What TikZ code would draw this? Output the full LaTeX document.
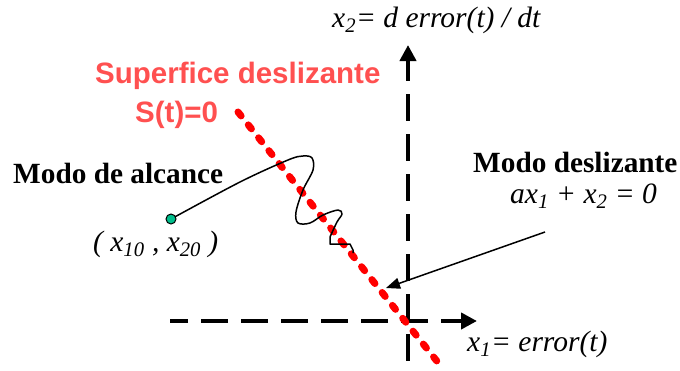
\documentclass[tikz,border=0pt]{standalone}
\usepackage{fontspec}
\setmainfont{Liberation Serif}
\newfontfamily\arialfont{Liberation Sans}
\usetikzlibrary{arrows.meta}
\definecolor{surfred}{RGB}{255,80,80}
\definecolor{dotgreen}{RGB}{0,190,140}
\newcommand{\sbx}[1]{\textsubscript{#1}}
\begin{document}
\begin{tikzpicture}[x=1pt,y=-1pt,
  axisline/.style={line width=4pt, dash pattern=on 27pt off 13pt, dash phase=6pt,
    {Triangle[length=16pt,width=16pt]}-},
  surfline/.style={red, line width=7pt, line cap=round, dash pattern=on 5pt off 11.5pt},
  traj/.style={line width=1.5pt, line join=round},
  pointer/.style={line width=1.5pt, -{Triangle[length=14pt,width=11pt]}},
  boldlabel/.style={anchor=base west, inner sep=0pt, font=\fontsize{29.3}{34}\selectfont\bfseries},
  redlabel/.style={anchor=base west, inner sep=0pt, text=surfred, font=\fontsize{29.5}{34}\selectfont\arialfont\bfseries},
  itlabel/.style={anchor=base west, inner sep=0pt, font=\fontsize{29.5}{34}\selectfont\itshape},
  startdot/.style={circle, draw, line width=1pt, fill=dotgreen, inner sep=0pt, minimum size=10pt}]
\useasboundingbox (0,0) rectangle (680,370);

% axes
\coordinate (ytip) at (408,45);
\coordinate (ybot) at (408,367);
\coordinate (xtip) at (477,321);
\coordinate (xstart) at (170,321);
\draw[axisline] (ytip) -- (ybot);
\draw[axisline] (xtip) -- (xstart);

% sliding surface
\coordinate (s1) at (238,112);
\coordinate (s2) at (440,365);
\draw[surfline] (s1) -- (s2);

% trajectory
\coordinate (p0) at (171,219);
\draw[traj] plot[smooth, tension=0.55] coordinates {(p0) (240,182) (288,160) (303,156) (312,158) (313,170) (303,190) (296,212) (298,223) (310,223) (323,215) (338,210) (342,214) (337,222) (330,237)}
  -- (330,244) -- (350,244) -- (353,250) -- (353,253);
\node[startdot] (dot) at (p0) {};

% labels
\node[redlabel] (surf) at (95,83) {Superfice deslizante};
\node[redlabel] (st) at (135,122) {S(t)=0};
\node[boldlabel] (alc) at (13,183) {Modo de alcance};
\node[itlabel] (x0) at (93,251) {( x\sbx{10} , x\sbx{20} )};
\node[boldlabel] (desl) at (473,172) {Modo deslizante};
\node[itlabel] (eq) at (510,203) {ax\sbx{1} + x\sbx{2} = 0};
\node[itlabel] (x1lab) at (467,351) {x\sbx{1}= error(t)};
\node[itlabel] (x2lab) at (332,27) {x\sbx{2}= d error(t) / dt};

% pointer
\coordinate (pstart) at (545,232);
\coordinate (ptip) at (386,288);
\draw[pointer] (pstart) -- (ptip);
\end{tikzpicture}
\end{document}
